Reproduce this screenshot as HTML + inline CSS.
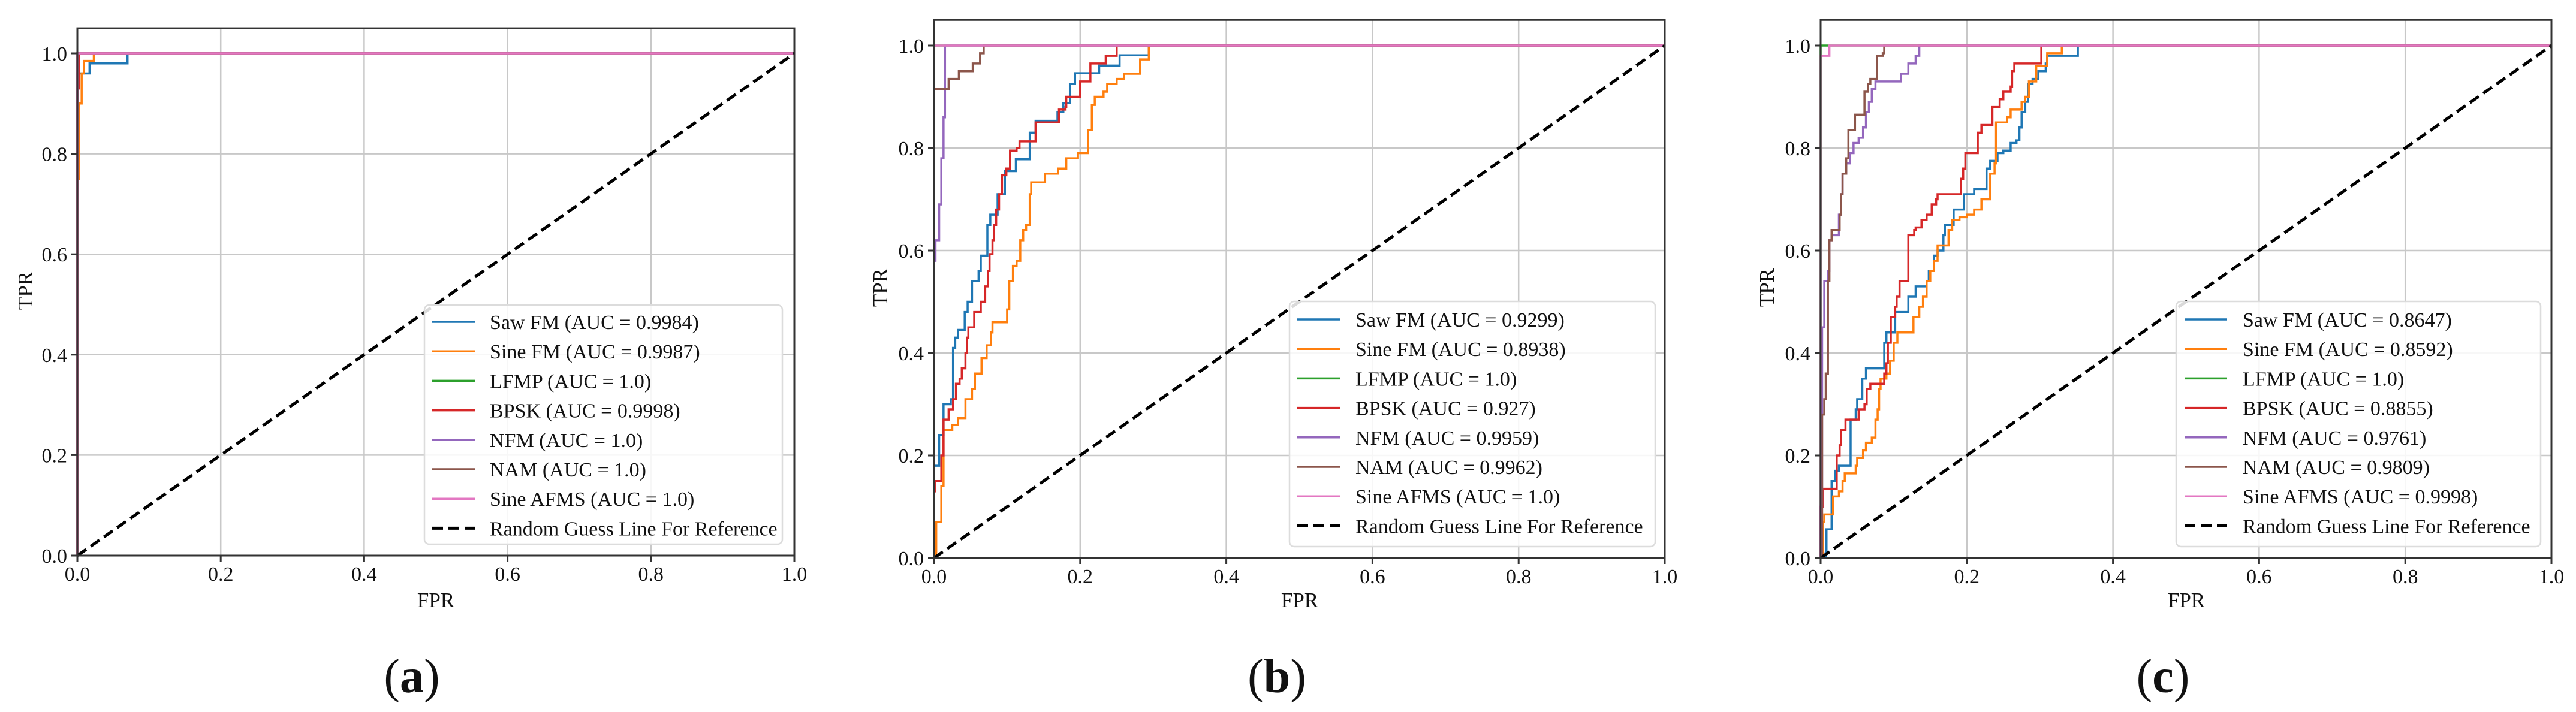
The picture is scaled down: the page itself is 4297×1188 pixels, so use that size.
<!DOCTYPE html>
<html><head><meta charset="utf-8"><style>
html,body{margin:0;padding:0;background:#fff}
svg{display:block}
text{font-family:"Liberation Serif",serif;fill:#111}
</style></head><body>
<svg id="fig" width="4297" height="1188" viewBox="0 0 4297 1188" xmlns="http://www.w3.org/2000/svg"></svg>
<script>
// ---------- data ----------
const seriesNames = ["Saw FM","Sine FM","LFMP","BPSK","NFM","NAM","Sine AFMS"];
const seriesColors = ["#1f77b4","#ff7f0e","#2ca02c","#d62728","#9467bd","#8c564b","#e377c2"];
const xTicks = [0,0.2,0.4,0.6,0.8,1.0];
const yTicks = [0,0.2,0.4,0.6,0.8,1.0];
const tickLabels = ["0.0","0.2","0.4","0.6","0.8","1.0"];
const aucA = ["0.9984","0.9987","1.0","0.9998","1.0","1.0","1.0"];
const aucB = ["0.9299","0.8938","1.0","0.927","0.9959","0.9962","1.0"];
const aucC = ["0.8647","0.8592","1.0","0.8855","0.9761","0.9809","0.9998"];
const panelLetters = ["a","b","c"];

// each point [fpr, tpr]; drawn as step: horizontal to fpr, then vertical to tpr
const aSaw = [[0,0],[0,0.96],[0.017,0.96],[0.017,0.98],[0.07,0.98],[0.07,1],[1,1]];
const aSine = [[0,0],[0,0.75],[0.002,0.75],[0.002,0.90],[0.006,0.90],[0.006,0.96],[0.009,0.96],[0.009,0.985],[0.023,0.985],[0.023,1],[1,1]];
const aLfmp = [[0,0],[0,1],[1,1]];
const aBpsk = [[0,0],[0,0.93],[0.002,0.93],[0.002,1],[1,1]];
const aNfm = [[0,0],[0,1],[1,1]];
const aNam = [[0,0],[0,1],[1,1]];
const aAfms = [[0,0],[0,1],[1,1]];

const bSaw = [[0,0],[0,0.18],[0.007,0.24],[0.013,0.30],[0.023,0.31],[0.026,0.41],[0.029,0.43],[0.033,0.445],[0.042,0.48],[0.046,0.50],[0.052,0.54],[0.061,0.56],[0.064,0.59],[0.073,0.65],[0.077,0.67],[0.087,0.71],[0.097,0.755],[0.112,0.778],[0.131,0.80],[0.131,0.83],[0.139,0.853],[0.169,0.87],[0.177,0.888],[0.186,0.925],[0.193,0.946],[0.226,0.961],[0.254,0.981],[0.294,1.0],[1,1]];
const bSine = [[0,0],[0.003,0.04],[0.003,0.07],[0.01,0.14],[0.013,0.25],[0.025,0.26],[0.033,0.273],[0.043,0.31],[0.052,0.33],[0.056,0.36],[0.065,0.39],[0.072,0.415],[0.078,0.44],[0.08,0.46],[0.097,0.46],[0.1,0.485],[0.103,0.54],[0.108,0.57],[0.113,0.58],[0.118,0.62],[0.122,0.64],[0.126,0.65],[0.131,0.71],[0.133,0.733],[0.152,0.75],[0.17,0.76],[0.181,0.78],[0.197,0.79],[0.211,0.835],[0.216,0.884],[0.22,0.90],[0.232,0.91],[0.237,0.925],[0.25,0.935],[0.26,0.945],[0.282,0.973],[0.294,1.0],[1,1]];
const bLfmp = [[0,0],[0,1],[1,1]];
const bBpsk = [[0,0],[0,0.13],[0.001,0.15],[0.01,0.20],[0.013,0.27],[0.02,0.29],[0.026,0.31],[0.03,0.34],[0.035,0.35],[0.038,0.37],[0.043,0.40],[0.045,0.43],[0.047,0.45],[0.055,0.48],[0.064,0.50],[0.07,0.53],[0.074,0.56],[0.076,0.593],[0.08,0.62],[0.082,0.65],[0.085,0.68],[0.089,0.71],[0.093,0.747],[0.099,0.76],[0.104,0.795],[0.113,0.80],[0.117,0.813],[0.139,0.85],[0.171,0.875],[0.18,0.88],[0.181,0.90],[0.2,0.93],[0.214,0.965],[0.235,0.98],[0.25,1.0],[1,1]];
const bNfm = [[0,0],[0,0.58],[0.002,0.62],[0.007,0.69],[0.01,0.78],[0.013,0.86],[0.015,0.87],[0.015,1.0],[1,1]];
const bNam = [[0,0],[0,0.915],[0.02,0.935],[0.034,0.95],[0.053,0.965],[0.063,0.985],[0.068,1.0],[1,1]];
const bAfms = [[0,0],[0,1],[1,1]];

const cSaw = [[0,0],[0.007,0.01],[0.008,0.056],[0.015,0.15],[0.02,0.17],[0.025,0.18],[0.041,0.27],[0.048,0.29],[0.05,0.31],[0.057,0.35],[0.062,0.37],[0.087,0.42],[0.09,0.44],[0.102,0.48],[0.12,0.51],[0.13,0.53],[0.145,0.54],[0.148,0.56],[0.155,0.59],[0.16,0.60],[0.168,0.63],[0.17,0.65],[0.182,0.68],[0.196,0.71],[0.21,0.72],[0.227,0.76],[0.232,0.775],[0.242,0.79],[0.25,0.795],[0.26,0.81],[0.268,0.815],[0.272,0.84],[0.275,0.87],[0.28,0.89],[0.284,0.925],[0.29,0.935],[0.298,0.95],[0.308,0.965],[0.31,0.98],[0.352,1.0],[1,1]];
const cSine = [[0,0],[0.003,0.07],[0.005,0.085],[0.017,0.12],[0.025,0.13],[0.03,0.15],[0.033,0.165],[0.048,0.18],[0.05,0.195],[0.058,0.21],[0.062,0.225],[0.07,0.235],[0.075,0.27],[0.078,0.29],[0.08,0.33],[0.082,0.35],[0.09,0.36],[0.095,0.385],[0.1,0.42],[0.105,0.44],[0.127,0.47],[0.135,0.49],[0.14,0.51],[0.145,0.54],[0.15,0.56],[0.155,0.58],[0.16,0.61],[0.175,0.64],[0.18,0.66],[0.19,0.665],[0.2,0.67],[0.21,0.68],[0.22,0.70],[0.232,0.75],[0.238,0.77],[0.24,0.85],[0.255,0.86],[0.26,0.875],[0.275,0.89],[0.28,0.90],[0.285,0.93],[0.295,0.96],[0.31,0.985],[0.33,1.0],[1,1]];
const cLfmp = [[0,0],[0,1],[1,1]];
const cBpsk = [[0,0],[0,0.10],[0.003,0.135],[0.022,0.20],[0.026,0.22],[0.028,0.25],[0.034,0.27],[0.052,0.29],[0.06,0.30],[0.063,0.33],[0.068,0.34],[0.087,0.36],[0.09,0.38],[0.092,0.42],[0.096,0.47],[0.102,0.49],[0.104,0.51],[0.108,0.54],[0.12,0.63],[0.128,0.64],[0.13,0.645],[0.138,0.66],[0.145,0.67],[0.152,0.69],[0.158,0.70],[0.16,0.71],[0.192,0.74],[0.195,0.76],[0.198,0.79],[0.215,0.83],[0.22,0.845],[0.235,0.88],[0.245,0.895],[0.25,0.91],[0.26,0.92],[0.262,0.95],[0.265,0.965],[0.302,1.0],[1,1]];
const cNfm = [[0,0],[0,0.10],[0.002,0.45],[0.005,0.54],[0.01,0.56],[0.012,0.62],[0.015,0.63],[0.025,0.67],[0.028,0.71],[0.03,0.75],[0.035,0.77],[0.04,0.79],[0.045,0.81],[0.052,0.82],[0.058,0.84],[0.062,0.87],[0.066,0.89],[0.07,0.915],[0.075,0.93],[0.11,0.945],[0.12,0.965],[0.13,0.98],[0.135,1.0],[1,1]];
const cNam = [[0,0],[0.002,0.28],[0.005,0.31],[0.007,0.36],[0.01,0.54],[0.012,0.62],[0.015,0.64],[0.026,0.67],[0.028,0.71],[0.03,0.75],[0.035,0.78],[0.038,0.835],[0.047,0.865],[0.06,0.91],[0.065,0.925],[0.068,0.935],[0.077,0.98],[0.085,0.985],[0.087,1.0],[1,1]];
const cAfms = [[0,0],[0,0.98],[0.012,1.0],[1,1]];

const panels = [
  {x0:129,x1:1325,y0:927,y1:89,series:[aSaw,aSine,aLfmp,aBpsk,aNfm,aNam,aAfms],auc:aucA,
   leg:{l:708,r:1305,t:509,b:908,ey:537,hx0:721,hx1:792,tx:817},tpr:[42,485],fpr:[727,1013],sub:[687,1155]},
  {x0:1558,x1:2777,y0:931,y1:76,series:[bSaw,bSine,bLfmp,bBpsk,bNfm,bNam,bAfms],auc:aucB,
   leg:{l:2151,r:2761,t:503,b:912,ey:533,hx0:2164,hx1:2235,tx:2261},tpr:[1468,480],fpr:[2168,1013],sub:[2130,1155]},
  {x0:3037,x1:4256,y0:931,y1:76,series:[cSaw,cSine,cLfmp,cBpsk,cNfm,cNam,cAfms],auc:aucC,
   leg:{l:3630,r:4238,t:503,b:912,ey:533,hx0:3644,hx1:3715,tx:3741},tpr:[2947,480],fpr:[3647,1013],sub:[3608,1155]}
];

const NS="http://www.w3.org/2000/svg";
const svg=document.getElementById('fig');
function mk(tag,attrs,parent){const e=document.createElementNS(NS,tag);for(const k in attrs)e.setAttribute(k,attrs[k]);(parent||svg).appendChild(e);return e;}

panels.forEach((p,pi)=>{
  const letter=panelLetters[pi];
  const g=mk('g',{});
  
  
  const sx=v=>p.x0+v*(p.x1-p.x0);
  const sy=v=>p.y0-v*(p.y0-p.y1);
  const top=sy(1.05);
  // grid
  xTicks.forEach((t,i)=>{
    const l=mk('line',{x1:sx(t),x2:sx(t),y1:top,y2:p.y0,stroke:'#c8c8c8','stroke-width':2.5},g);
    
    
  });
  yTicks.forEach((t,i)=>{
    const l=mk('line',{x1:p.x0,x2:p.x1,y1:sy(t),y2:sy(t),stroke:'#c8c8c8','stroke-width':2.5},g);
    
    
  });
  // series
  p.series.forEach((pts,si)=>{
    let d='M'+sx(pts[0][0])+' '+sy(pts[0][1]);
    for(let k=1;k<pts.length;k++){d+=' L'+sx(pts[k][0])+' '+sy(pts[k-1][1])+' L'+sx(pts[k][0])+' '+sy(pts[k][1]);}
    const path=mk('path',{d:d,fill:'none',stroke:seriesColors[si],'stroke-width':3.5,'stroke-linejoin':'miter'},g);
    
    
  });
  const diag=mk('line',{x1:sx(0),y1:sy(0),x2:sx(1),y2:sy(1),stroke:'#000','stroke-width':5,'stroke-dasharray':'18 9'},g);
  
  
  // frame
  const fr=mk('rect',{x:p.x0,y:top,width:p.x1-p.x0,height:p.y0-top,fill:'none',stroke:'#333','stroke-width':3},g);
  
  
  // ticks
  xTicks.forEach((t,i)=>{
    mk('line',{x1:sx(t),x2:sx(t),y1:p.y0,y2:p.y0+10,stroke:'#333','stroke-width':3},g);
    const tx=mk('text',{x:sx(t),y:p.y0+42,'font-size':34,'text-anchor':'middle'},g);
    tx.textContent=tickLabels[i];
    
    
  });
  yTicks.forEach((t,i)=>{
    mk('line',{x1:p.x0-10,x2:p.x0,y1:sy(t),y2:sy(t),stroke:'#333','stroke-width':3},g);
    const ty=mk('text',{x:p.x0-17,y:sy(t)+12,'font-size':34,'text-anchor':'end'},g);
    ty.textContent=tickLabels[i];
    
    
  });
  const xl=mk('text',{x:p.fpr[0],y:p.fpr[1],'font-size':35,'text-anchor':'middle'},g);
  xl.textContent='FPR';
  
  
  const yl=mk('text',{x:0,y:0,'font-size':35,'text-anchor':'middle',transform:'translate('+(p.tpr[0]+12)+','+p.tpr[1]+') rotate(-90)'},g);
  yl.textContent='TPR';
  
  
  // legend
  const L=p.leg;
  const lg=mk('g',{},g);
  
  
  mk('rect',{x:L.l,y:L.t,width:L.r-L.l,height:L.b-L.t,rx:8,fill:'#fff','fill-opacity':0.85,stroke:'#dcdcdc','stroke-width':2.5},lg);
  const labels=seriesNames.map((n,i)=>n+' (AUC = '+p.auc[i]+')').concat(['Random Guess Line For Reference']);
  labels.forEach((lab,i)=>{
    const y=L.ey+i*49.2;
    const col=i<7?seriesColors[i]:'#000';
    const h=mk('line',{x1:L.hx0,x2:L.hx1,y1:y,y2:y,stroke:col,'stroke-width':i<7?3.5:5,'stroke-dasharray':i<7?'none':'18 9'},lg);
    
    
    const t=mk('text',{x:L.tx,y:y+12,'font-size':34},lg);
    t.textContent=lab;
    
    
  });
  // sub label
  const s=mk('text',{x:p.sub[0],y:p.sub[1],'font-size':80,'text-anchor':'middle'},g);
  
  
  const t1=mk('tspan',{},s);t1.textContent='(';
  const t2=mk('tspan',{'font-weight':'bold'},s);t2.textContent=letter;
  const t3=mk('tspan',{},s);t3.textContent=')';
});
</script>
</body></html>
